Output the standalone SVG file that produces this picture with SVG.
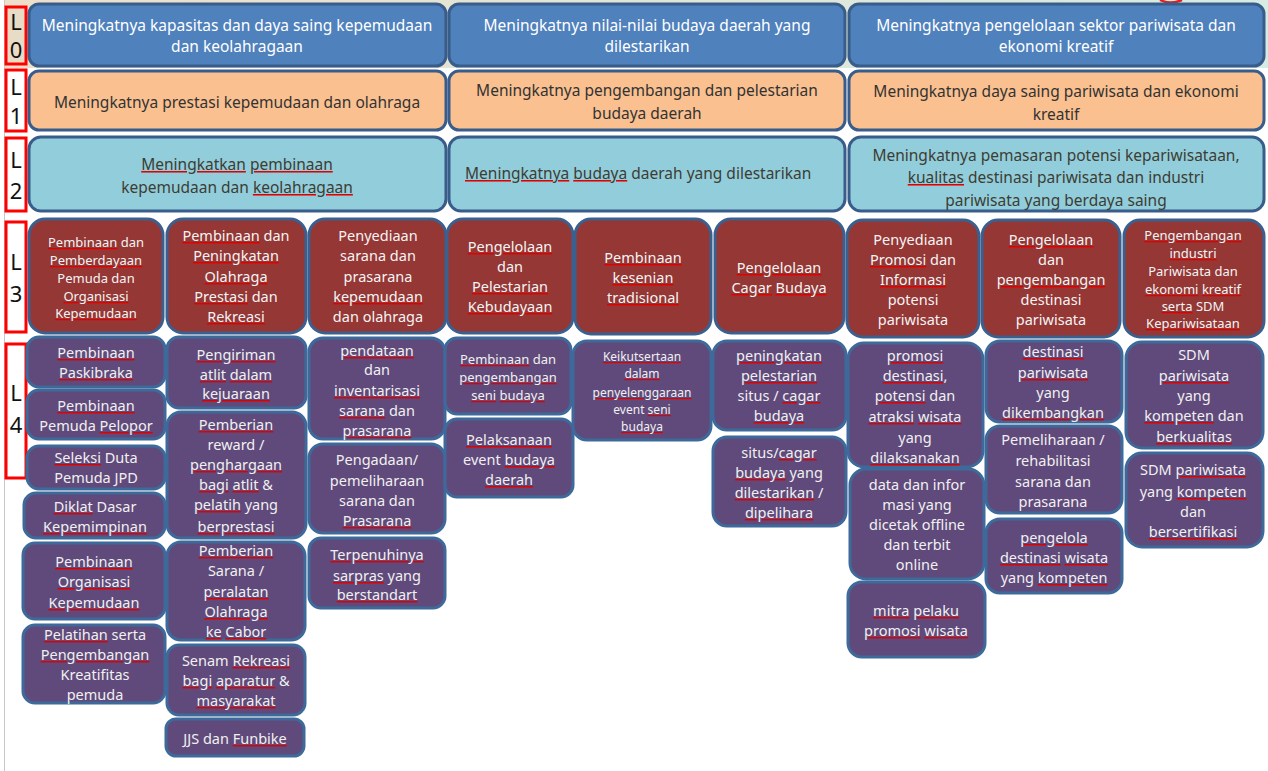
<svg xmlns="http://www.w3.org/2000/svg" width="1268" height="771" viewBox="0 0 1268 771">
<defs>
<linearGradient id="bandg" x1="0" y1="0" x2="1" y2="0">
<stop offset="0" stop-color="#ede0cb"/>
<stop offset="1" stop-color="#d6ebe3"/>
</linearGradient>
</defs>
<style>
text{font-family:"Noto Sans","Liberation Sans",sans-serif;text-anchor:middle}
.lab rect{fill:#ffffff;stroke:#ff0000;stroke-width:3}
.lab text{font-size:22px;fill:#111}
.l0 rect{fill:#4f81bd;stroke:#385d8a;stroke-width:3}
.l0 text{font-size:15.5px;fill:#ffffff}
.l1 rect{fill:#fac090;stroke:#385d8a;stroke-width:3}
.l1 text{font-size:15.5px;fill:#333333}
.l2 rect{fill:#92cddc;stroke:#385d8a;stroke-width:3}
.l2 text{font-size:15.5px;fill:#3d3d33}
.l3 rect{fill:#953735;stroke:#3a6090;stroke-width:3}
.l3 text{font-size:14.5px;fill:#f4f4f4}
.l4 rect{fill:#604a7b;stroke:#3d6a9a;stroke-width:3}
.l4 text{font-size:14.5px;fill:#f0f0f0}
.sm{font-size:13px !important}
.xs{font-size:12px !important}
.u{text-decoration:underline;fill:#e00000}
.l2 .u tspan{fill:#3d3d33}
.l3 .u tspan{fill:#f4f4f4}
.l4 .u tspan{fill:#f0f0f0}
</style>
<rect x="0" y="0" width="1268" height="771" fill="#ffffff"/>
<rect x="5" y="0" width="1263" height="68" fill="url(#bandg)"/>
<line x1="4.5" y1="0" x2="4.5" y2="771" stroke="#c8c8c8" stroke-width="1"/>
<path d="M1160,0 Q1170,5 1182,0" fill="none" stroke="#e02020" stroke-width="2.5"/>

<g id="labels" class="lab">
<g id="lab-L0"><rect x="6" y="7" width="20" height="57" style="fill:#e9dcc6"/><text x="16" y="30">L</text><text x="16" y="58">0</text></g>
<g id="lab-L1"><rect x="6" y="70" width="20" height="61"/><text x="16" y="95">L</text><text x="16" y="124">1</text></g>
<g id="lab-L2"><rect x="6" y="138" width="20" height="73"/><text x="16" y="168">L</text><text x="16" y="199">2</text></g>
<g id="lab-L3"><rect x="6" y="222" width="20" height="110"/><text x="16" y="270">L</text><text x="16" y="302">3</text></g>
<g id="lab-L4"><rect x="6" y="344" width="20" height="134"/><text x="16" y="401">L</text><text x="16" y="433">4</text></g>
</g>

<g id="connectors"></g>

<g class="l0">
<g id="l0-a"><rect x="29" y="4" width="417" height="62" rx="10"/><text x="237" y="31">Meningkatnya kapasitas dan daya saing kepemudaan</text><text x="237" y="52">dan keolahragaan</text></g>
<g id="l0-b"><rect x="449" y="4" width="396" height="62" rx="10"/><text x="647" y="31">Meningkatnya nilai-nilai budaya daerah yang</text><text x="647" y="52">dilestarikan</text></g>
<g id="l0-c"><rect x="849" y="4" width="415" height="62" rx="10"/><text x="1056" y="31">Meningkatnya pengelolaan sektor pariwisata dan</text><text x="1056" y="52">ekonomi kreatif</text></g>
</g>

<g class="l1">
<g id="l1-a"><rect x="29" y="71" width="417" height="59" rx="10"/><text x="237" y="108">Meningkatnya prestasi kepemudaan dan olahraga</text></g>
<g id="l1-b"><rect x="449" y="71" width="396" height="59" rx="10"/><text x="647" y="96">Meningkatnya pengembangan dan pelestarian</text><text x="647" y="119">budaya daerah</text></g>
<g id="l1-c"><rect x="849" y="71" width="415" height="59" rx="10"/><text x="1056" y="97">Meningkatnya daya saing pariwisata dan ekonomi</text><text x="1056" y="120">kreatif</text></g>
</g>

<g class="l2">
<g id="l2-a"><rect x="29" y="137" width="417" height="74" rx="12"/><text x="237" y="170"><tspan class="u"><tspan>Meningkatkan</tspan></tspan> <tspan class="u"><tspan>pembinaan</tspan></tspan></text><text x="237" y="193">kepemudaan dan <tspan class="u"><tspan>keolahragaan</tspan></tspan></text></g>
<g id="l2-b"><rect x="449" y="137" width="396" height="74" rx="12"/><text x="465" y="179" style="text-anchor:start"><tspan class="u"><tspan>Meningkatnya</tspan></tspan> <tspan class="u"><tspan>budaya</tspan></tspan> daerah yang dilestarikan</text></g>
<g id="l2-c"><rect x="849" y="137" width="415" height="74" rx="12"/><text x="1056" y="161">Meningkatnya pemasaran potensi kepariwisataan,</text><text x="1056" y="183"><tspan class="u"><tspan>kualitas</tspan></tspan> destinasi pariwisata dan industri</text><text x="1056" y="206">pariwisata yang berdaya saing</text></g>
</g>

<g class="l3">
<g id="l3-a1"><rect x="29" y="219" width="134" height="114" rx="16"/><text class="sm" x="96"><tspan x="96" y="247"><tspan class="u"><tspan>Pembinaan</tspan></tspan> dan</tspan><tspan x="96" y="265" class="u"><tspan>Pemberdayaan</tspan></tspan><tspan x="96" y="283">Pemuda dan</tspan><tspan x="96" y="301" class="u"><tspan>Organisasi</tspan></tspan><tspan x="96" y="318" class="u"><tspan>Kepemudaan</tspan></tspan></text></g>
<g id="l3-a2"><rect x="167" y="219" width="139" height="114" rx="16"/><text x="236"><tspan x="236" y="241"><tspan class="u"><tspan>Pembinaan</tspan></tspan> dan</tspan><tspan x="236" y="261" class="u"><tspan>Peningkatan</tspan></tspan><tspan x="236" y="282" class="u"><tspan>Olahraga</tspan></tspan><tspan x="236" y="302"><tspan class="u"><tspan>Prestasi</tspan></tspan> dan</tspan><tspan x="236" y="322" class="u"><tspan>Rekreasi</tspan></tspan></text></g>
<g id="l3-a3"><rect x="309" y="219" width="137" height="114" rx="16"/><text x="378"><tspan x="378" y="241">Penyediaan</tspan><tspan x="378" y="261">sarana dan</tspan><tspan x="378" y="282">prasarana</tspan><tspan x="378" y="302" class="u"><tspan>kepemudaan</tspan></tspan><tspan x="378" y="322">dan olahraga</tspan></text></g>
<g id="l3-b1"><rect x="447" y="219" width="126" height="114" rx="16"/><text x="510"><tspan x="510" y="252" class="u"><tspan>Pengelolaan</tspan></tspan><tspan x="510" y="272">dan</tspan><tspan x="510" y="292" class="u"><tspan>Pelestarian</tspan></tspan><tspan x="510" y="312" class="u"><tspan>Kebudayaan</tspan></tspan></text></g>
<g id="l3-b2"><rect x="575" y="219" width="136" height="115" rx="16"/><text x="643"><tspan x="643" y="263" class="u"><tspan>Pembinaan</tspan></tspan><tspan x="643" y="283" class="u"><tspan>kesenian</tspan></tspan><tspan x="643" y="303" class="u"><tspan>tradisional</tspan></tspan></text></g>
<g id="l3-b3"><rect x="715" y="219" width="129" height="114" rx="16"/><text x="779"><tspan x="779" y="273" class="u"><tspan>Pengelolaan</tspan></tspan><tspan x="779" y="293"><tspan class="u"><tspan>Cagar</tspan></tspan> <tspan class="u"><tspan>Budaya</tspan></tspan></tspan></text></g>
<g id="l3-c1"><rect x="847" y="220" width="132" height="117" rx="16"/><text x="913"><tspan x="913" y="245">Penyediaan</tspan><tspan x="913" y="265"><tspan class="u"><tspan>Promosi</tspan></tspan> dan</tspan><tspan x="913" y="285" class="u"><tspan>Informasi</tspan></tspan><tspan x="913" y="305">potensi</tspan><tspan x="913" y="325">pariwisata</tspan></text></g>
<g id="l3-c2"><rect x="982" y="220" width="138" height="117" rx="16"/><text x="1051"><tspan x="1051" y="245" class="u"><tspan>Pengelolaan</tspan></tspan><tspan x="1051" y="265">dan</tspan><tspan x="1051" y="285" class="u"><tspan>pengembangan</tspan></tspan><tspan x="1051" y="305">destinasi</tspan><tspan x="1051" y="325">pariwisata</tspan></text></g>
<g id="l3-c3"><rect x="1124" y="220" width="140" height="117" rx="16"/><text class="sm" x="1193"><tspan x="1193" y="240" class="u"><tspan>Pengembangan</tspan></tspan><tspan x="1193" y="258" class="u"><tspan>industri</tspan></tspan><tspan x="1193" y="276">Pariwisata dan</tspan><tspan x="1193" y="294"><tspan class="u"><tspan>ekonomi</tspan></tspan> <tspan class="u"><tspan>kreatif</tspan></tspan></tspan><tspan x="1193" y="311"><tspan class="u"><tspan>serta</tspan></tspan> SDM</tspan><tspan x="1193" y="328" class="u"><tspan>Kepariwisataan</tspan></tspan></text></g>
</g>

<g class="l4">
<g id="l4-a1-1"><rect x="27" y="337" width="138" height="50" rx="12"/><text x="96"><tspan x="96" y="358" class="u"><tspan>Pembinaan</tspan></tspan><tspan x="96" y="378" class="u"><tspan>Paskibraka</tspan></tspan></text></g>
<g id="l4-a1-2"><rect x="27" y="390" width="138" height="49" rx="12"/><text x="96"><tspan x="96" y="411" class="u"><tspan>Pembinaan</tspan></tspan><tspan x="96" y="431">Pemuda <tspan class="u"><tspan>Pelopor</tspan></tspan></tspan></text></g>
<g id="l4-a1-3"><rect x="27" y="446" width="138" height="43" rx="12"/><text x="96"><tspan x="96" y="463"><tspan class="u"><tspan>Seleksi</tspan></tspan> Duta</tspan><tspan x="96" y="483">Pemuda JPD</tspan></text></g>
<g id="l4-a1-4"><rect x="24" y="493" width="141" height="45" rx="12"/><text x="95"><tspan x="95" y="512"><tspan class="u"><tspan>Diklat</tspan></tspan> Dasar</tspan><tspan x="95" y="532" class="u"><tspan>Kepemimpinan</tspan></tspan></text></g>
<g id="l4-a1-5"><rect x="23" y="543" width="142" height="76" rx="12"/><text x="94"><tspan x="94" y="567" class="u"><tspan>Pembinaan</tspan></tspan><tspan x="94" y="587" class="u"><tspan>Organisasi</tspan></tspan><tspan x="94" y="608" class="u"><tspan>Kepemudaan</tspan></tspan></text></g>
<g id="l4-a1-6"><rect x="23" y="625" width="142" height="78" rx="12"/><text x="95"><tspan x="95" y="640"><tspan class="u"><tspan>Pelatihan</tspan></tspan> serta</tspan><tspan x="95" y="660" class="u"><tspan>Pengembangan</tspan></tspan><tspan x="95" y="680">Kreatifitas</tspan><tspan x="95" y="700">pemuda</tspan></text></g>

<g id="l4-a2-1"><rect x="167" y="337" width="139" height="71" rx="12"/><text x="236"><tspan x="236" y="360" class="u"><tspan>Pengiriman</tspan></tspan><tspan x="236" y="380"><tspan class="u"><tspan>atlit</tspan></tspan> <tspan class="u"><tspan>dalam</tspan></tspan></tspan><tspan x="236" y="399" class="u"><tspan>kejuaraan</tspan></tspan></text></g>
<g id="l4-a2-2"><rect x="167" y="412" width="139" height="126" rx="14"/><text x="236"><tspan x="236" y="430" class="u"><tspan>Pemberian</tspan></tspan><tspan x="236" y="450">reward /</tspan><tspan x="236" y="470" class="u"><tspan>penghargaan</tspan></tspan><tspan x="236" y="490"><tspan class="u"><tspan>bagi</tspan></tspan> <tspan class="u"><tspan>atlit</tspan></tspan> &amp;</tspan><tspan x="236" y="510"><tspan class="u"><tspan>pelatih</tspan></tspan> yang</tspan><tspan x="236" y="532" class="u"><tspan>berprestasi</tspan></tspan></text></g>
<g id="l4-a2-3"><rect x="167" y="542" width="138" height="98" rx="14"/><text x="236"><tspan x="236" y="556" class="u"><tspan>Pemberian</tspan></tspan><tspan x="236" y="576">Sarana /</tspan><tspan x="236" y="597" class="u"><tspan>peralatan</tspan></tspan><tspan x="236" y="617" class="u"><tspan>Olahraga</tspan></tspan><tspan x="236" y="637"><tspan class="u"><tspan>ke</tspan></tspan> <tspan class="u"><tspan>Cabor</tspan></tspan></tspan></text></g>
<g id="l4-a2-4"><rect x="167" y="645" width="138" height="70" rx="12"/><text x="236"><tspan x="236" y="666">Senam <tspan class="u"><tspan>Rekreasi</tspan></tspan></tspan><tspan x="236" y="686"><tspan class="u"><tspan>bagi</tspan></tspan> <tspan class="u"><tspan>aparatur</tspan></tspan> &amp;</tspan><tspan x="236" y="706" class="u"><tspan>masyarakat</tspan></tspan></text></g>
<g id="l4-a2-5"><rect x="166" y="719" width="138" height="37" rx="10"/><text x="235" y="744">JJS dan <tspan class="u"><tspan>Funbike</tspan></tspan></text></g>

<g id="l4-a3-1"><rect x="309" y="338" width="136" height="101" rx="14"/><text x="377"><tspan x="377" y="356" class="u"><tspan>pendataan</tspan></tspan><tspan x="377" y="375">dan</tspan><tspan x="377" y="396" class="u"><tspan>inventarisasi</tspan></tspan><tspan x="377" y="416"><tspan class="u"><tspan>sarana</tspan></tspan> dan</tspan><tspan x="377" y="436" class="u"><tspan>prasarana</tspan></tspan></text></g>
<g id="l4-a3-2"><rect x="309" y="444" width="136" height="89" rx="14"/><text x="377"><tspan x="377" y="465">Pengadaan/</tspan><tspan x="377" y="486">pemeliharaan</tspan><tspan x="377" y="506">sarana dan</tspan><tspan x="377" y="526" class="u"><tspan>Prasarana</tspan></tspan></text></g>
<g id="l4-a3-3"><rect x="309" y="538" width="136" height="70" rx="12"/><text x="377"><tspan x="377" y="560" class="u"><tspan>Terpenuhinya</tspan></tspan><tspan x="377" y="581"><tspan class="u"><tspan>sarpras</tspan></tspan> yang</tspan><tspan x="377" y="600" class="u"><tspan>berstandart</tspan></tspan></text></g>

<g id="l4-b1-1"><rect x="445" y="338" width="126" height="76" rx="12"/><text class="sm" x="508"><tspan x="508" y="364"><tspan class="u"><tspan>Pembinaan</tspan></tspan> dan</tspan><tspan x="508" y="382" class="u"><tspan>pengembangan</tspan></tspan><tspan x="508" y="400"><tspan class="u"><tspan>seni</tspan></tspan> <tspan class="u"><tspan>budaya</tspan></tspan></tspan></text></g>
<g id="l4-b1-2"><rect x="445" y="419" width="128" height="78" rx="12"/><text x="509"><tspan x="509" y="445" class="u"><tspan>Pelaksanaan</tspan></tspan><tspan x="509" y="465">event <tspan class="u"><tspan>budaya</tspan></tspan></tspan><tspan x="509" y="485" class="u"><tspan>daerah</tspan></tspan></text></g>

<g id="l4-b2-1"><rect x="573" y="341" width="138" height="99" rx="14"/><text class="xs" x="642"><tspan x="642" y="361" class="u"><tspan>Keikutsertaan</tspan></tspan><tspan x="642" y="378" class="u"><tspan>dalam</tspan></tspan><tspan x="642" y="397" class="u"><tspan>penyelenggaraan</tspan></tspan><tspan x="642" y="414">event <tspan class="u"><tspan>seni</tspan></tspan></tspan><tspan x="642" y="431" class="u"><tspan>budaya</tspan></tspan></text></g>

<g id="l4-b3-1"><rect x="713" y="341" width="133" height="89" rx="14"/><text x="779"><tspan x="779" y="361" class="u"><tspan>peningkatan</tspan></tspan><tspan x="779" y="381" class="u"><tspan>pelestarian</tspan></tspan><tspan x="779" y="401">situs / <tspan class="u"><tspan>cagar</tspan></tspan></tspan><tspan x="779" y="421" class="u"><tspan>budaya</tspan></tspan></text></g>
<g id="l4-b3-2"><rect x="713" y="437" width="133" height="89" rx="14"/><text x="779"><tspan x="779" y="458">situs/<tspan class="u"><tspan>cagar</tspan></tspan></tspan><tspan x="779" y="478"><tspan class="u"><tspan>budaya</tspan></tspan> yang</tspan><tspan x="779" y="498"><tspan class="u"><tspan>dilestarikan</tspan></tspan> /</tspan><tspan x="779" y="518" class="u"><tspan>dipelihara</tspan></tspan></text></g>

<g id="l4-c1-1"><rect x="848" y="343" width="135" height="124" rx="16"/><text x="915"><tspan x="915" y="361" class="u"><tspan>promosi</tspan></tspan><tspan x="915" y="381" class="u"><tspan>destinasi,</tspan></tspan><tspan x="915" y="401"><tspan class="u"><tspan>potensi</tspan></tspan> dan</tspan><tspan x="915" y="422"><tspan class="u"><tspan>atraksi</tspan></tspan> <tspan class="u"><tspan>wisata</tspan></tspan></tspan><tspan x="915" y="443">yang</tspan><tspan x="915" y="463" class="u"><tspan>dilaksanakan</tspan></tspan></text></g>
<g id="l4-c1-2"><rect x="850" y="469" width="134" height="110" rx="16"/><text x="917"><tspan x="917" y="490">data dan infor</tspan><tspan x="917" y="510">masi yang</tspan><tspan x="917" y="530">dicetak offline</tspan><tspan x="917" y="550">dan terbit</tspan><tspan x="917" y="570">online</tspan></text></g>
<g id="l4-c1-3"><rect x="848" y="582" width="137" height="75" rx="14"/><text x="916"><tspan x="916" y="616"><tspan class="u"><tspan>mitra</tspan></tspan> <tspan class="u"><tspan>pelaku</tspan></tspan></tspan><tspan x="916" y="636"><tspan class="u"><tspan>promosi</tspan></tspan> <tspan class="u"><tspan>wisata</tspan></tspan></tspan></text></g>

<g id="l4-c2-1"><rect x="986" y="341" width="136" height="81" rx="14"/><text x="1053"><tspan x="1053" y="357" class="u"><tspan>destinasi</tspan></tspan><tspan x="1053" y="378" class="u"><tspan>pariwisata</tspan></tspan><tspan x="1053" y="398">yang</tspan><tspan x="1053" y="418" class="u"><tspan>dikembangkan</tspan></tspan></text></g>
<g id="l4-c2-2"><rect x="986" y="426" width="136" height="87" rx="14"/><text x="1053"><tspan x="1053" y="445">Pemeliharaan /</tspan><tspan x="1053" y="466">rehabilitasi</tspan><tspan x="1053" y="487">sarana dan</tspan><tspan x="1053" y="507">prasarana</tspan></text></g>
<g id="l4-c2-3"><rect x="986" y="519" width="136" height="74" rx="14"/><text x="1054"><tspan x="1054" y="543" class="u"><tspan>pengelola</tspan></tspan><tspan x="1054" y="563"><tspan class="u"><tspan>destinasi</tspan></tspan> <tspan class="u"><tspan>wisata</tspan></tspan></tspan><tspan x="1054" y="583">yang <tspan class="u"><tspan>kompeten</tspan></tspan></tspan></text></g>

<g id="l4-c3-1"><rect x="1126" y="342" width="137" height="106" rx="16"/><text x="1194"><tspan x="1194" y="360">SDM</tspan><tspan x="1194" y="381" class="u"><tspan>pariwisata</tspan></tspan><tspan x="1194" y="401">yang</tspan><tspan x="1194" y="421"><tspan class="u"><tspan>kompeten</tspan></tspan> dan</tspan><tspan x="1194" y="442" class="u"><tspan>berkualitas</tspan></tspan></text></g>
<g id="l4-c3-2"><rect x="1126" y="453" width="137" height="94" rx="16"/><text x="1193"><tspan x="1193" y="475">SDM <tspan class="u"><tspan>pariwisata</tspan></tspan></tspan><tspan x="1193" y="497">yang <tspan class="u"><tspan>kompeten</tspan></tspan></tspan><tspan x="1193" y="517">dan</tspan><tspan x="1193" y="537" class="u"><tspan>bersertifikasi</tspan></tspan></text></g>
</g>
</svg>
